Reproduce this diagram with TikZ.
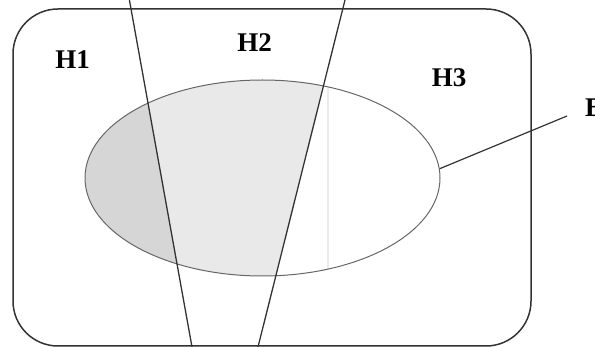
\documentclass[tikz,border=0pt]{standalone}
\usepackage{fontspec}
\setmainfont{Liberation Serif}
\usetikzlibrary{shapes.geometric}
\definecolor{darkfill}{HTML}{D6D6D6}
\definecolor{lightfill}{HTML}{E9E9E9}
\definecolor{edge}{HTML}{333333}
\begin{document}
\begin{tikzpicture}[x=1pt,y=-1pt,
  lbl/.style={font=\fontsize{27}{27}\selectfont\bfseries, inner sep=0pt, text=black},
  sepline/.style={draw=edge, line width=1.3pt},
  frame/.style={draw=edge, line width=1.5pt, rounded corners=45pt}]
\useasboundingbox (0,0) rectangle (595,347);
% frame
\draw[frame] (13,9) rectangle (531,346);
% ellipse shading
\coordinate (la) at (129.4,0);
\coordinate (lb) at (192,347);
\coordinate (ra) at (345,0);
\coordinate (rb) at (258,347);
\begin{scope}
  \clip (262.5,178) ellipse [x radius=177.5, y radius=98];
  \fill[darkfill] (0,0) -- (la) -- (lb) -- (0,347) -- cycle;
  \fill[lightfill] (la) -- (ra) -- (rb) -- (lb) -- cycle;
  \draw[black!8, line width=2pt] (327.5,60) -- (327.5,300);
\end{scope}
\node[ellipse, draw=black!60, line width=1pt, minimum width=355pt, minimum height=196pt, inner sep=0pt] (E) at (262.5,178) {};
% separating lines
\draw[sepline] (la) -- (lb);
\draw[sepline] (ra) -- (rb);
% labels
\node[lbl] (H1) at (72.5,60) {H1};
\node[lbl] (H2) at (254.5,43) {H2};
\node[lbl] (H3) at (449,77.5) {H3};
\node[lbl, anchor=west] (B) at (585,108) {B};
\coordinate (bt) at (567,116);
\draw[edge, line width=1.2pt] (E.3) -- (bt);
\end{tikzpicture}
\end{document}
